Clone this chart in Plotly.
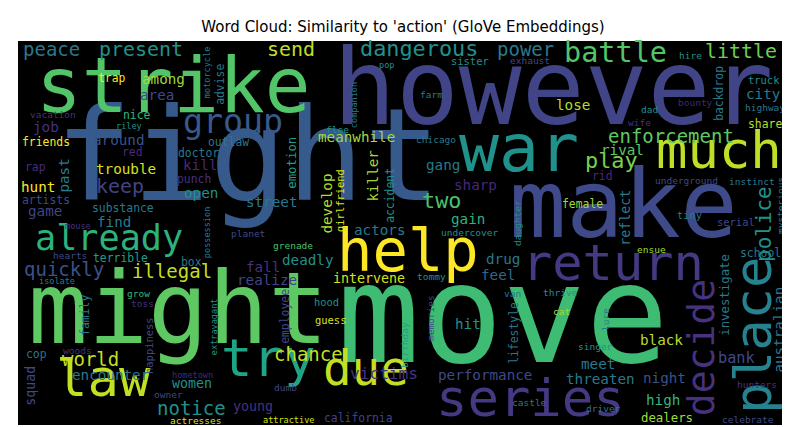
import plotly.graph_objects as go

# ── Word cloud data (word, position in picture px, size, colour, vertical?) ──
WORDS = ["fight", "move", "might", "however", "make", "strike", "war", "help", "return", "much",
         "law", "try", "due", "series", "place", "decide", "already", "group", "battle", "dangerous",
         "power", "present", "peace", "send", "little", "enforcement", "play", "quickly", "illegal", "world",
         "chance", "notice", "two", "keep", "police", "victims", "trap", "among", "area", "motorcycle",
         "advise", "pop", "vacation", "nice", "riley", "job", "friends", "around", "outlaw", "red",
         "doctor", "rap", "past", "trouble", "kill", "hunt", "punch", "emotion", "artists", "open",
         "street", "game", "substance", "meanwhile", "killer", "flee", "companion", "accident", "develop", "girlfriend",
         "actors", "find", "mouse", "possession", "planet", "hearts", "terrible", "box", "fall", "deadly",
         "realize", "intervene", "isolate", "family", "grow", "toss", "happiness", "extravagant", "employee", "hood",
         "guess", "birthday", "cop", "woods", "squad", "encounter", "hometown", "women", "owner", "dumb",
         "young", "actresses", "attractive", "california", "sister", "exhaust", "hire", "truck", "backdrop", "farm",
         "city", "bounty", "lose", "dad", "highway", "wife", "share", "chicago", "rival", "gang",
         "rid", "sharp", "underground", "instinct", "female", "reflect", "mysterious", "gain", "tiny", "serial",
         "daughter", "undercover", "drug", "feel", "tommy", "ensue", "school", "investigate", "australian", "van",
         "thrive", "cat", "memories", "lure", "hit", "black", "lifestyle", "singer", "bank", "meet",
         "performance", "threaten", "night", "hunters", "high", "castle", "driver", "dealers", "celebrate", "grenade"]
WX = [240, 495, 170, 545, 615, 165, 511, 400, 605, 711,
      95, 260, 358, 522, 750, 697, 101, 225, 607, 411,
      517, 133, 43, 283, 733, 663, 603, 56, 164, 82,
      300, 183, 433, 112, 758, 376, 104, 155, 149, 200,
      213, 378, 45, 129, 121, 38, 38, 110, 220, 124,
      190, 27, 57, 118, 192, 30, 186, 285, 38, 193,
      263, 37, 115, 348, 366, 329, 347, 383, 320, 333,
      371, 106, 70, 200, 240, 62, 112, 183, 255, 300,
      259, 361, 49, 78, 130, 134, 142, 207, 278, 318,
      322, 397, 28, 69, 23, 103, 184, 184, 160, 277,
      245, 187, 280, 350, 462, 522, 682, 756, 712, 423,
      755, 687, 565, 641, 757, 631, 757, 428, 614, 435,
      594, 467, 678, 744, 574, 618, 773, 460, 681, 728,
      510, 461, 495, 490, 423, 643, 752, 718, 772, 504,
      552, 553, 423, 598, 460, 653, 507, 587, 728, 590,
      477, 592, 656, 749, 655, 521, 595, 659, 740, 285]
WY = [160, 320, 310, 90, 205, 85, 147, 248, 260, 147,
      375, 355, 365, 395, 327, 340, 233, 117, 47, 43,
      43, 43, 43, 43, 45, 130, 155, 263, 265, 353,
      348, 402, 195, 180, 216, 367, 71, 72, 88, 65,
      76, 58, 107, 108, 119, 120, 135, 133, 135, 145,
      146, 160, 168, 162, 158, 180, 172, 155, 193, 186,
      195, 204, 201, 130, 168, 122, 97, 187, 196, 192,
      223, 215, 219, 225, 226, 248, 251, 255, 260, 253,
      273, 272, 274, 307, 286, 296, 337, 319, 308, 295,
      313, 337, 347, 343, 378, 368, 368, 377, 387, 380,
      400, 413, 413, 411, 54, 53, 48, 73, 85, 87,
      87, 95, 98, 102, 100, 115, 117, 132, 143, 158,
      169, 178, 173, 174, 197, 210, 198, 212, 208, 215,
      215, 225, 252, 268, 269, 242, 246, 287, 322, 286,
      285, 304, 310, 312, 317, 333, 325, 339, 352, 357,
      368, 372, 371, 377, 393, 395, 401, 411, 412, 238]
WSIZE = [135, 145, 105, 110, 100, 80, 70, 62, 53, 55,
         55, 55, 50, 55, 55, 40, 37, 35, 30, 23,
         20, 21, 20, 21, 21, 20, 23, 20, 20, 20,
         20, 20, 23, 21, 22, 17, 12, 15, 15, 9,
         12, 9, 10, 12, 9, 15, 12, 15, 12, 12,
         12, 12, 15, 15, 15, 15, 12, 13, 12, 15,
         15, 15, 12, 15, 15, 10, 9, 12, 15, 11,
         15, 15, 9, 9, 10, 10, 12, 12, 15, 15,
         15, 14, 9, 12, 10, 10, 11, 9, 12, 11,
         11, 10, 12, 10, 14, 15, 9, 14, 10, 10,
         14, 10, 9, 12, 11, 10, 10, 11, 12, 10,
         15, 10, 15, 10, 10, 10, 12, 10, 15, 15,
         12, 15, 10, 10, 12, 14, 10, 15, 11, 11,
         10, 10, 15, 15, 10, 10, 12, 13, 15, 10,
         10, 10, 10, 10, 15, 15, 12, 10, 16, 15,
         15, 15, 15, 10, 15, 10, 10, 13, 10, 10]
WCOLOR = ["#375a8c", "#3fbc73", "#5ec962", "#414487", "#3e4a89", "#52c569", "#21918c", "#fde725", "#443a83", "#bddf26",
          "#c2df23", "#20a486", "#c2df23", "#443983", "#26828e", "#46327e", "#2db27d", "#38598c", "#52c569", "#21918c",
          "#2a788e", "#21918c", "#2a788e", "#bddf26", "#6ccd5a", "#5ec962", "#7ad151", "#3b528b", "#c2df23", "#c2df23",
          "#c2df23", "#21918c", "#4ac16d", "#414487", "#21918c", "#46327e", "#fde725", "#a0da39", "#3e4989", "#2a788e",
          "#2a788e", "#21918c", "#46327e", "#2fb47c", "#21918c", "#46327e", "#fde725", "#3b528b", "#2a788e", "#482878",
          "#2a788e", "#472d7b", "#287d8e", "#d8e219", "#482878", "#fde725", "#46327e", "#1f9e89", "#3e4989", "#21918c",
          "#2a788e", "#414487", "#2a788e", "#a0da39", "#a0da39", "#21918c", "#2a788e", "#21918c", "#b5de2b", "#d8e219",
          "#2a788e", "#2a788e", "#46327e", "#2a788e", "#3e4989", "#3e4989", "#1f9e89", "#2a788e", "#46327e", "#21918c",
          "#414487", "#d8e219", "#2a788e", "#2a788e", "#35b779", "#46327e", "#3e4989", "#21918c", "#3e4989", "#21918c",
          "#d8e219", "#1f9e89", "#2a788e", "#46327e", "#3e4989", "#2a788e", "#482878", "#21918c", "#3e4989", "#3e4989",
          "#46327e", "#d8e219", "#d8e219", "#414487", "#21918c", "#3e4989", "#21918c", "#21918c", "#2a788e", "#2a788e",
          "#2a788e", "#3b2a74", "#b5de2b", "#21918c", "#2a788e", "#46327e", "#b5de2b", "#2a788e", "#5ec962", "#2a788e",
          "#482878", "#482878", "#3e4989", "#2a788e", "#a0da39", "#2a788e", "#2a788e", "#2db27d", "#2a788e", "#3e4989",
          "#21918c", "#21918c", "#2a788e", "#31688e", "#21918c", "#a0da39", "#2a788e", "#2a788e", "#2a788e", "#2a788e",
          "#21918c", "#a0da39", "#3e4989", "#2a788e", "#21918c", "#b5de2b", "#2a788e", "#21918c", "#3e4989", "#2a788e",
          "#3e4989", "#2a788e", "#3b528b", "#46327e", "#35b779", "#2a788e", "#2a788e", "#a0da39", "#3e4989", "#4ac16d"]
VERTICAL = {"place", "decide", "motorcycle", "advise", "companion", "past", "emotion", "killer", "accident",
            "develop", "girlfriend", "possession", "family", "happiness", "extravagant", "employee", "birthday",
            "squad", "backdrop", "reflect", "police", "mysterious", "daughter", "investigate", "australian",
            "memories", "lure", "lifestyle"}

FONT = "DejaVu Sans Mono"
K = 0.1       # shift from glyph centre to text-box centre, in font-size units
SCALE = 0.95  # rendered glyphs run a little larger than the reference

fig = go.Figure()
fig.add_trace(go.Scatter(x=[10, 780], y=[33, 417], mode="markers",
                         marker=dict(opacity=0), hoverinfo="skip", showlegend=False))

for w, x, y, s, c in zip(WORDS, WX, WY, WSIZE, WCOLOR):
    vert = w in VERTICAL
    fs = s * SCALE
    fig.add_annotation(
        x=x - K * fs if vert else x,
        y=y if vert else y - K * fs,
        text=w, showarrow=False, textangle=-90 if vert else 0,
        xanchor="center", yanchor="middle",
        font=dict(family=FONT, size=fs, color=c),
    )

fig.update_layout(
    width=790, height=427,
    title=dict(text="Word Cloud: Similarity to 'action' (GloVe Embeddings)",
               x=0.5, xanchor="center", y=0.955, yanchor="middle",
               font=dict(family="DejaVu Sans", size=15, color="black")),
    paper_bgcolor="white", plot_bgcolor="black",
    margin=dict(l=10, r=10, t=33, b=10, autoexpand=False),
    xaxis=dict(range=[10, 780], visible=False, fixedrange=True),
    yaxis=dict(range=[417, 33], visible=False, fixedrange=True),
    showlegend=False,
)

fig.write_html("out.html")
